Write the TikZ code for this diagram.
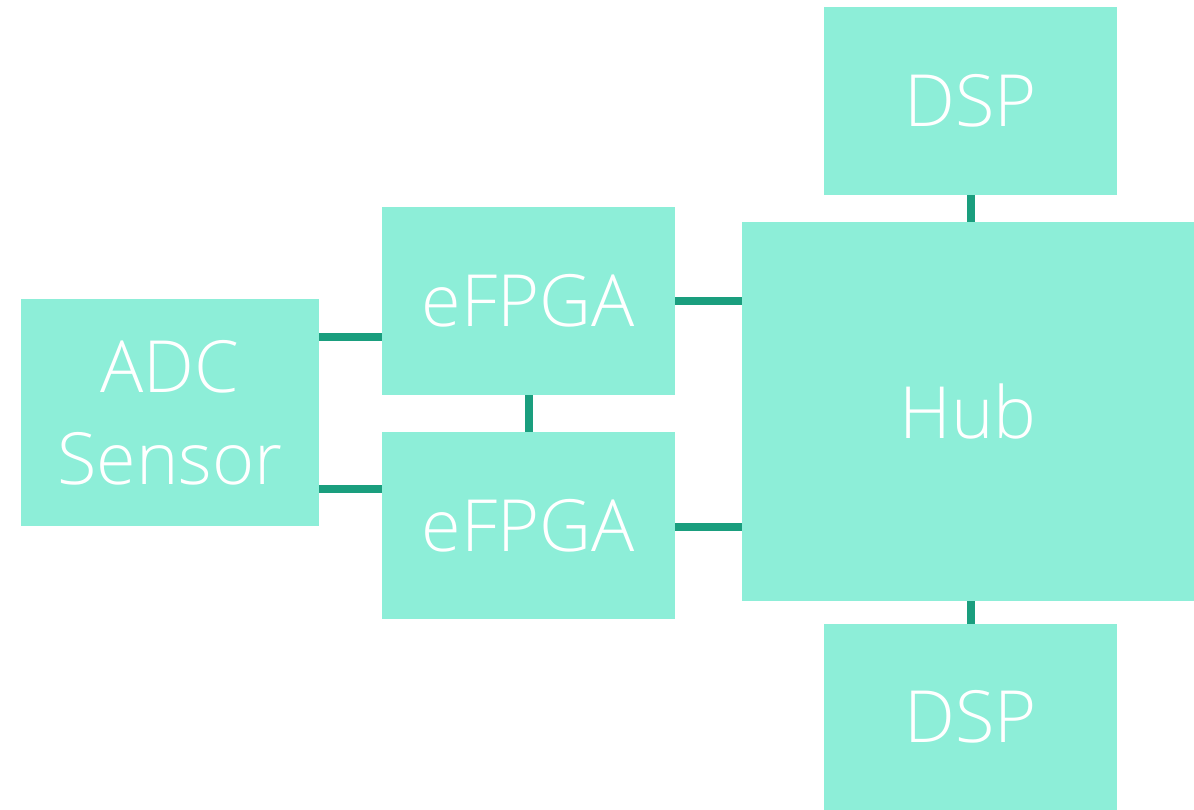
\documentclass[tikz,border=0pt]{standalone}
\usepackage{fontspec}
\IfFontExistsTF{Open Sans Light}{\setmainfont{Open Sans Light}}{\setmainfont{Open Sans}}
\definecolor{boxfill}{HTML}{8DEED8}
\definecolor{wire}{HTML}{1A9E7E}
\begin{document}
\begin{tikzpicture}[x=1pt,y=-1pt,
  block/.style={fill=boxfill, draw=none, inner sep=0pt, align=center,
    text=white, font=\fontsize{72}{92}\selectfont},
  link/.style={draw=wire, line width=8pt}]
\useasboundingbox (0,0) rectangle (1194,810);
% blocks
\node[block, minimum width=298pt, minimum height=227pt] (adc) at (170,412.5) {ADC\\Sensor};
\node[block, minimum width=293pt, minimum height=188pt] (efa) at (528.5,301) {eFPGA};
\node[block, minimum width=293pt, minimum height=187pt] (efb) at (528.5,525.5) {eFPGA};
\node[block, minimum width=452pt, minimum height=379pt] (hub) at (968,411.5) {Hub};
\node[block, minimum width=293pt, minimum height=188pt] (dspa) at (970.5,101) {DSP};
\node[block, minimum width=293pt, minimum height=186pt] (dspb) at (970.5,717) {DSP};
% wire heights and columns
\coordinate (r1) at (0,336.5);
\coordinate (r2) at (0,488.5);
\coordinate (r3) at (0,301);
\coordinate (r4) at (0,526.5);
\coordinate (c1) at (970.5,0);
% wires
\draw[link] (adc.east |- r1) -- (efa.west |- r1);
\draw[link] (adc.east |- r2) -- (efb.west |- r2);
\draw[link] (efa.south) -- (efb.north);
\draw[link] (efa.east |- r3) -- (hub.west |- r3);
\draw[link] (efb.east |- r4) -- (hub.west |- r4);
\draw[link] (c1 |- dspa.south) -- (c1 |- hub.north);
\draw[link] (c1 |- hub.south) -- (c1 |- dspb.north);
\end{tikzpicture}
\end{document}
